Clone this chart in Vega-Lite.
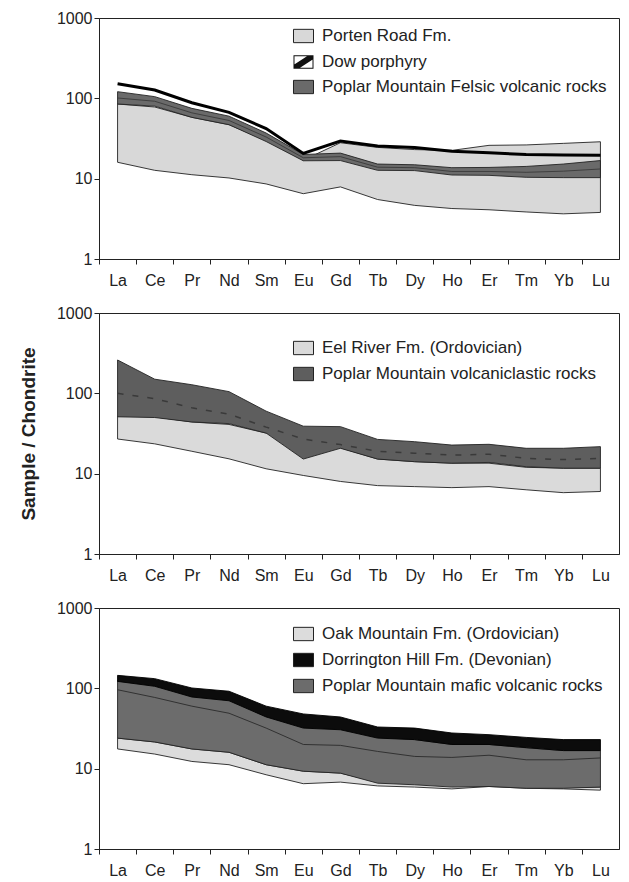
{
  "$schema": "https://vega.github.io/schema/vega-lite/v6.json",
  "autosize": {"type": "pad"},
  "padding": {"left": 18, "top": 9, "right": 5, "bottom": 5},
  "background": "white",
  "config": {
    "font": "Liberation Sans",
    "view": {"stroke": "#222", "strokeWidth": 1},
    "axis": {"domainColor": "#222", "tickColor": "#222", "labelColor": "#222", "titleColor": "#222", "labelFontSize": 16, "grid": false, "tickSize": 5},
    "legend": {"orient": "none", "title": null, "padding": 0, "rowPadding": 7, "symbolSize": 178, "symbolType": "M-1.5,-1L1.5,-1L1.5,1L-1.5,1Z", "symbolStrokeColor": "#222", "symbolStrokeWidth": 1, "symbolOpacity": 1, "labelFontSize": 17, "labelOffset": 10, "labelColor": "#222", "labelLimit": 500}
  },
  "datasets": {
    "p1": [
      {"e": "La", "s": "por", "lo": 16, "hi": 85}, {"e": "Ce", "s": "por", "lo": 12.7, "hi": 78}, {"e": "Pr", "s": "por", "lo": 11.2, "hi": 58}, {"e": "Nd", "s": "por", "lo": 10.2, "hi": 47}, {"e": "Sm", "s": "por", "lo": 8.6, "hi": 30}, {"e": "Eu", "s": "por", "lo": 6.5, "hi": 17}, {"e": "Gd", "s": "por", "lo": 7.9, "hi": 28}, {"e": "Tb", "s": "por", "lo": 5.5, "hi": 24.5}, {"e": "Dy", "s": "por", "lo": 4.65, "hi": 23}, {"e": "Ho", "s": "por", "lo": 4.25, "hi": 22.5}, {"e": "Er", "s": "por", "lo": 4.1, "hi": 26}, {"e": "Tm", "s": "por", "lo": 3.85, "hi": 26.3}, {"e": "Yb", "s": "por", "lo": 3.65, "hi": 27.5}, {"e": "Lu", "s": "por", "lo": 3.8, "hi": 28.8},
      {"e": "La", "s": "fel", "lo": 85, "hi": 121}, {"e": "Ce", "s": "fel", "lo": 80, "hi": 105}, {"e": "Pr", "s": "fel", "lo": 58, "hi": 75}, {"e": "Nd", "s": "fel", "lo": 47, "hi": 60}, {"e": "Sm", "s": "fel", "lo": 29, "hi": 37}, {"e": "Eu", "s": "fel", "lo": 16.7, "hi": 20}, {"e": "Gd", "s": "fel", "lo": 16.8, "hi": 20.8}, {"e": "Tb", "s": "fel", "lo": 12.7, "hi": 15.2}, {"e": "Dy", "s": "fel", "lo": 12.6, "hi": 14.9}, {"e": "Ho", "s": "fel", "lo": 11.1, "hi": 13.7}, {"e": "Er", "s": "fel", "lo": 11, "hi": 13.8}, {"e": "Tm", "s": "fel", "lo": 10.4, "hi": 14.2}, {"e": "Yb", "s": "fel", "lo": 10.3, "hi": 15.2}, {"e": "Lu", "s": "fel", "lo": 10.3, "hi": 16.8},
      {"e": "La", "s": "felm", "hi": 101}, {"e": "Ce", "s": "felm", "hi": 92}, {"e": "Pr", "s": "felm", "hi": 66}, {"e": "Nd", "s": "felm", "hi": 53}, {"e": "Sm", "s": "felm", "hi": 33}, {"e": "Eu", "s": "felm", "hi": 18.2}, {"e": "Gd", "s": "felm", "hi": 18.8}, {"e": "Tb", "s": "felm", "hi": 13.9}, {"e": "Dy", "s": "felm", "hi": 13.7}, {"e": "Ho", "s": "felm", "hi": 12.3}, {"e": "Er", "s": "felm", "hi": 12.3}, {"e": "Tm", "s": "felm", "hi": 12}, {"e": "Yb", "s": "felm", "hi": 12.4}, {"e": "Lu", "s": "felm", "hi": 13.2},
      {"e": "La", "s": "dow", "hi": 152}, {"e": "Ce", "s": "dow", "hi": 127}, {"e": "Pr", "s": "dow", "hi": 88}, {"e": "Nd", "s": "dow", "hi": 67}, {"e": "Sm", "s": "dow", "hi": 42}, {"e": "Eu", "s": "dow", "hi": 20.6}, {"e": "Gd", "s": "dow", "hi": 29.4}, {"e": "Tb", "s": "dow", "hi": 25.5}, {"e": "Dy", "s": "dow", "hi": 24.5}, {"e": "Ho", "s": "dow", "hi": 22}, {"e": "Er", "s": "dow", "hi": 21}, {"e": "Tm", "s": "dow", "hi": 20}, {"e": "Yb", "s": "dow", "hi": 19.7}, {"e": "Lu", "s": "dow", "hi": 19.5}
    ],
    "p2": [
      {"e": "La", "s": "eel", "lo": 27, "hi": 52}, {"e": "Ce", "s": "eel", "lo": 23.5, "hi": 51}, {"e": "Pr", "s": "eel", "lo": 19, "hi": 44}, {"e": "Nd", "s": "eel", "lo": 15.3, "hi": 41}, {"e": "Sm", "s": "eel", "lo": 11.5, "hi": 32}, {"e": "Eu", "s": "eel", "lo": 9.5, "hi": 25}, {"e": "Gd", "s": "eel", "lo": 8, "hi": 21}, {"e": "Tb", "s": "eel", "lo": 7.1, "hi": 15.2}, {"e": "Dy", "s": "eel", "lo": 6.9, "hi": 14.1}, {"e": "Ho", "s": "eel", "lo": 6.7, "hi": 13.5}, {"e": "Er", "s": "eel", "lo": 6.9, "hi": 13.5}, {"e": "Tm", "s": "eel", "lo": 6.3, "hi": 12}, {"e": "Yb", "s": "eel", "lo": 5.8, "hi": 11.7}, {"e": "Lu", "s": "eel", "lo": 6, "hi": 11.7},
      {"e": "La", "s": "vc", "lo": 51, "hi": 260}, {"e": "Ce", "s": "vc", "lo": 50, "hi": 150}, {"e": "Pr", "s": "vc", "lo": 44, "hi": 128}, {"e": "Nd", "s": "vc", "lo": 42, "hi": 105}, {"e": "Sm", "s": "vc", "lo": 32, "hi": 60}, {"e": "Eu", "s": "vc", "lo": 15.2, "hi": 39}, {"e": "Gd", "s": "vc", "lo": 20.7, "hi": 38.5}, {"e": "Tb", "s": "vc", "lo": 15.2, "hi": 26.7}, {"e": "Dy", "s": "vc", "lo": 14.1, "hi": 25}, {"e": "Ho", "s": "vc", "lo": 13.5, "hi": 22.7}, {"e": "Er", "s": "vc", "lo": 13.8, "hi": 23.2}, {"e": "Tm", "s": "vc", "lo": 12.2, "hi": 20.7}, {"e": "Yb", "s": "vc", "lo": 11.7, "hi": 20.7}, {"e": "Lu", "s": "vc", "lo": 11.7, "hi": 21.7},
      {"e": "La", "s": "vcm", "hi": 100}, {"e": "Ce", "s": "vcm", "hi": 86}, {"e": "Pr", "s": "vcm", "hi": 66}, {"e": "Nd", "s": "vcm", "hi": 55}, {"e": "Sm", "s": "vcm", "hi": 38}, {"e": "Eu", "s": "vcm", "hi": 27}, {"e": "Gd", "s": "vcm", "hi": 23}, {"e": "Tb", "s": "vcm", "hi": 19}, {"e": "Dy", "s": "vcm", "hi": 18}, {"e": "Ho", "s": "vcm", "hi": 17}, {"e": "Er", "s": "vcm", "hi": 17.5}, {"e": "Tm", "s": "vcm", "hi": 15.5}, {"e": "Yb", "s": "vcm", "hi": 15}, {"e": "Lu", "s": "vcm", "hi": 15.5}
    ],
    "p3": [
      {"e": "La", "s": "oak", "lo": 17.6, "hi": 24}, {"e": "Ce", "s": "oak", "lo": 15.2, "hi": 21.5}, {"e": "Pr", "s": "oak", "lo": 12.3, "hi": 17.6}, {"e": "Nd", "s": "oak", "lo": 11.2, "hi": 16}, {"e": "Sm", "s": "oak", "lo": 8.4, "hi": 11.2}, {"e": "Eu", "s": "oak", "lo": 6.5, "hi": 9.3}, {"e": "Gd", "s": "oak", "lo": 6.8, "hi": 8.8}, {"e": "Tb", "s": "oak", "lo": 6.1, "hi": 6.9}, {"e": "Dy", "s": "oak", "lo": 5.9, "hi": 6.6}, {"e": "Ho", "s": "oak", "lo": 5.6, "hi": 6.2}, {"e": "Er", "s": "oak", "lo": 6, "hi": 6.1}, {"e": "Tm", "s": "oak", "lo": 5.7, "hi": 5.9}, {"e": "Yb", "s": "oak", "lo": 5.6, "hi": 5.8}, {"e": "Lu", "s": "oak", "lo": 5.4, "hi": 5.9},
      {"e": "La", "s": "maf", "lo": 24, "hi": 125}, {"e": "Ce", "s": "maf", "lo": 21.5, "hi": 111}, {"e": "Pr", "s": "maf", "lo": 17.6, "hi": 83}, {"e": "Nd", "s": "maf", "lo": 16, "hi": 76}, {"e": "Sm", "s": "maf", "lo": 11.2, "hi": 47}, {"e": "Eu", "s": "maf", "lo": 9.3, "hi": 35}, {"e": "Gd", "s": "maf", "lo": 8.8, "hi": 32}, {"e": "Tb", "s": "maf", "lo": 6.6, "hi": 24.5}, {"e": "Dy", "s": "maf", "lo": 6.3, "hi": 23}, {"e": "Ho", "s": "maf", "lo": 5.9, "hi": 20}, {"e": "Er", "s": "maf", "lo": 6, "hi": 20}, {"e": "Tm", "s": "maf", "lo": 5.7, "hi": 18.2}, {"e": "Yb", "s": "maf", "lo": 5.7, "hi": 16.8}, {"e": "Lu", "s": "maf", "lo": 5.9, "hi": 16.8},
      {"e": "La", "s": "mafm", "hi": 96}, {"e": "Ce", "s": "mafm", "hi": 77}, {"e": "Pr", "s": "mafm", "hi": 60}, {"e": "Nd", "s": "mafm", "hi": 49}, {"e": "Sm", "s": "mafm", "hi": 32}, {"e": "Eu", "s": "mafm", "hi": 20}, {"e": "Gd", "s": "mafm", "hi": 19.5}, {"e": "Tb", "s": "mafm", "hi": 16.4}, {"e": "Dy", "s": "mafm", "hi": 14.2}, {"e": "Ho", "s": "mafm", "hi": 13.8}, {"e": "Er", "s": "mafm", "hi": 14.7}, {"e": "Tm", "s": "mafm", "hi": 12.9}, {"e": "Yb", "s": "mafm", "hi": 12.9}, {"e": "Lu", "s": "mafm", "hi": 13.6},
      {"e": "La", "s": "dor", "lo": 122, "hi": 145}, {"e": "Ce", "s": "dor", "lo": 106, "hi": 132}, {"e": "Pr", "s": "dor", "lo": 78, "hi": 101}, {"e": "Nd", "s": "dor", "lo": 70, "hi": 92}, {"e": "Sm", "s": "dor", "lo": 44, "hi": 60}, {"e": "Eu", "s": "dor", "lo": 32, "hi": 48}, {"e": "Gd", "s": "dor", "lo": 30.5, "hi": 44}, {"e": "Tb", "s": "dor", "lo": 24, "hi": 33}, {"e": "Dy", "s": "dor", "lo": 23, "hi": 32}, {"e": "Ho", "s": "dor", "lo": 20, "hi": 27.8}, {"e": "Er", "s": "dor", "lo": 20, "hi": 26.5}, {"e": "Tm", "s": "dor", "lo": 18.3, "hi": 24.5}, {"e": "Yb", "s": "dor", "lo": 16.8, "hi": 23}, {"e": "Lu", "s": "dor", "lo": 16.8, "hi": 23}
    ]
  },
  "spacing": 54,
  "bounds": "flush",
  "resolve": {"scale": {"fill": "independent"}, "legend": {"fill": "independent"}},
  "vconcat": [
    {
      "width": 520, "height": 241,
      "data": {"name": "p1"},
      "encoding": {
        "x": {"field": "e", "type": "ordinal", "scale": {"type": "point", "padding": 0.5, "domain": ["La", "Ce", "Pr", "Nd", "Sm", "Eu", "Gd", "Tb", "Dy", "Ho", "Er", "Tm", "Yb", "Lu"]}, "axis": {"title": null, "labelAngle": 0, "labelPadding": 8, "tickOffset": -18.57, "labelOffset": 18.57}},
        "y": {"field": "hi", "type": "quantitative", "scale": {"type": "log", "domain": [1, 1000]}, "axis": {"title": null, "values": [1, 10, 100, 1000], "format": "d", "labelPadding": 2}}
      },
      "layer": [
        {
          "transform": [{"filter": "datum.s === 'por'"}],
          "mark": {"type": "area", "stroke": "#222", "strokeWidth": 0.9, "opacity": 1},
          "encoding": {
            "y2": {"field": "lo"},
            "fill": {"datum": "Porten Road Fm.", "type": "nominal",
              "scale": {"domain": ["Porten Road Fm.", "Dow porphyry", "Poplar Mountain Felsic volcanic rocks"], "range": ["#d8d8d8", "#111111", "#6a6a6a"]},
              "legend": {"legendX": 196, "legendY": 9.5,
                "encode": {"symbols": {"update": {
                  "shape": {"signal": "datum.value === 'Dow porphyry' ? 'M-1.5,-1L1.5,-1L1.5,1L-1.5,1ZM-1.35,-0.85L-1.35,0.85L1.35,0.85L1.35,-0.85ZM-1.5,0.45L0.75,-1L1.5,-1L1.5,-0.45L-0.75,1L-1.5,1Z' : 'M-1.5,-1L1.5,-1L1.5,1L-1.5,1Z'"},
                  "strokeWidth": {"signal": "datum.value === 'Dow porphyry' ? 0 : 1"}
                }}}}}
          }
        },
        {
          "transform": [{"filter": "datum.s === 'fel'"}],
          "mark": {"type": "area", "stroke": "#222", "strokeWidth": 0.9, "opacity": 1},
          "encoding": {"y2": {"field": "lo"}, "fill": {"datum": "Poplar Mountain Felsic volcanic rocks", "type": "nominal"}}
        },
        {
          "transform": [{"filter": "datum.s === 'felm'"}],
          "mark": {"type": "line", "stroke": "#333", "strokeWidth": 0.8}
        },
        {
          "transform": [{"filter": "datum.s === 'dow'"}],
          "mark": {"type": "line", "stroke": "#000", "strokeWidth": 3}
        }
      ]
    },
    {
      "width": 520, "height": 241,
      "data": {"name": "p2"},
      "encoding": {
        "x": {"field": "e", "type": "ordinal", "scale": {"type": "point", "padding": 0.5, "domain": ["La", "Ce", "Pr", "Nd", "Sm", "Eu", "Gd", "Tb", "Dy", "Ho", "Er", "Tm", "Yb", "Lu"]}, "axis": {"title": null, "labelAngle": 0, "labelPadding": 8, "tickOffset": -18.57, "labelOffset": 18.57}},
        "y": {"field": "hi", "type": "quantitative", "scale": {"type": "log", "domain": [1, 1000]}, "axis": {"title": "Sample / Chondrite", "titleFontSize": 19, "titleFontWeight": "bold", "titlePadding": 18, "values": [1, 10, 100, 1000], "format": "d", "labelPadding": 2}}
      },
      "layer": [
        {
          "transform": [{"filter": "datum.s === 'eel'"}],
          "mark": {"type": "area", "stroke": "#222", "strokeWidth": 0.9, "opacity": 1},
          "encoding": {
            "y2": {"field": "lo"},
            "fill": {"datum": "Eel River Fm. (Ordovician)", "type": "nominal",
              "scale": {"domain": ["Eel River Fm. (Ordovician)", "Poplar Mountain volcaniclastic rocks"], "range": ["#dadada", "#5e5e5e"]},
              "legend": {"legendX": 196, "legendY": 26.5}}
          }
        },
        {
          "transform": [{"filter": "datum.s === 'vc'"}],
          "mark": {"type": "area", "stroke": "#222", "strokeWidth": 0.9, "opacity": 1},
          "encoding": {"y2": {"field": "lo"}, "fill": {"datum": "Poplar Mountain volcaniclastic rocks", "type": "nominal"}}
        },
        {
          "transform": [{"filter": "datum.s === 'vcm'"}],
          "mark": {"type": "line", "stroke": "#3a3a3a", "strokeWidth": 1.5, "strokeDash": [6, 9]}
        }
      ]
    },
    {
      "width": 520, "height": 241,
      "data": {"name": "p3"},
      "encoding": {
        "x": {"field": "e", "type": "ordinal", "scale": {"type": "point", "padding": 0.5, "domain": ["La", "Ce", "Pr", "Nd", "Sm", "Eu", "Gd", "Tb", "Dy", "Ho", "Er", "Tm", "Yb", "Lu"]}, "axis": {"title": null, "labelAngle": 0, "labelPadding": 8, "tickOffset": -18.57, "labelOffset": 18.57}},
        "y": {"field": "hi", "type": "quantitative", "scale": {"type": "log", "domain": [1, 1000]}, "axis": {"title": null, "values": [1, 10, 100, 1000], "format": "d", "labelPadding": 2}}
      },
      "layer": [
        {
          "transform": [{"filter": "datum.s === 'oak'"}],
          "mark": {"type": "area", "stroke": "#222", "strokeWidth": 0.9, "opacity": 1},
          "encoding": {
            "y2": {"field": "lo"},
            "fill": {"datum": "Oak Mountain Fm. (Ordovician)", "type": "nominal",
              "scale": {"domain": ["Oak Mountain Fm. (Ordovician)", "Dorrington Hill Fm. (Devonian)", "Poplar Mountain mafic volcanic rocks"], "range": ["#dcdcdc", "#0c0c0c", "#6c6c6c"]},
              "legend": {"legendX": 196, "legendY": 17.5}}
          }
        },
        {
          "transform": [{"filter": "datum.s === 'maf'"}],
          "mark": {"type": "area", "stroke": "#222", "strokeWidth": 0.9, "opacity": 1},
          "encoding": {"y2": {"field": "lo"}, "fill": {"datum": "Poplar Mountain mafic volcanic rocks", "type": "nominal"}}
        },
        {
          "transform": [{"filter": "datum.s === 'mafm'"}],
          "mark": {"type": "line", "stroke": "#2a2a2a", "strokeWidth": 0.9}
        },
        {
          "transform": [{"filter": "datum.s === 'dor'"}],
          "mark": {"type": "area", "stroke": "#000", "strokeWidth": 0.9, "opacity": 1},
          "encoding": {"y2": {"field": "lo"}, "fill": {"datum": "Dorrington Hill Fm. (Devonian)", "type": "nominal"}}
        }
      ]
    }
  ]
}
